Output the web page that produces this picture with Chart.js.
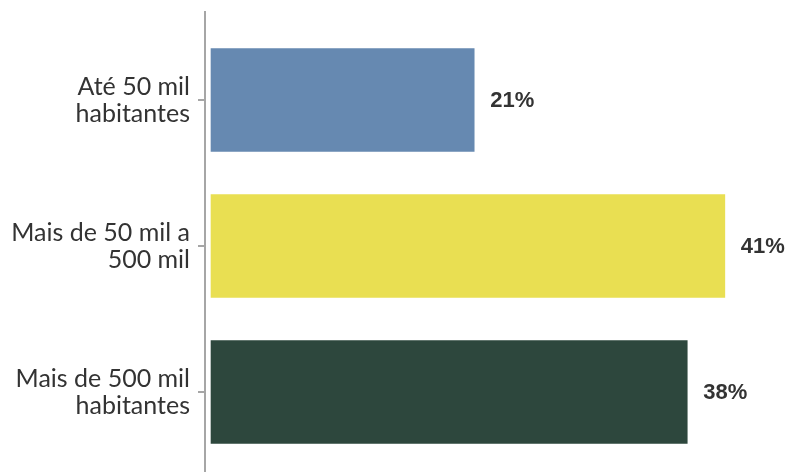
<!DOCTYPE html>
<html>
<head>
<meta charset="utf-8">
<script src="https://cdn.jsdelivr.net/npm/chart.js@4/dist/chart.umd.min.js"></script>
<style>
  html, body { margin: 0; padding: 0; background: #ffffff; }
  #wrap { width: 790px; height: 472px; position: relative; }
</style>
</head>
<body>
<div id="wrap"><canvas id="c"></canvas></div>
<script>
const categories = [
  ["Até 50 mil", "habitantes"],
  ["Mais de 50 mil a", "500 mil"],
  ["Mais de 500 mil", "habitantes"]
];
const values = [21, 41, 38];
const valueLabels = ["21%", "41%", "38%"];
const barColors = ["#6689B1", "#E9DF52", "#2D473D"];

const valueLabelPlugin = {
  id: 'valueLabels',
  afterDatasetsDraw(chart) {
    const ctx = chart.ctx;
    const meta = chart.getDatasetMeta(0);
    ctx.save();
    ctx.font = 'bold 22px "Liberation Sans", Arial, sans-serif';
    ctx.fillStyle = '#333333';
    ctx.textAlign = 'left';
    ctx.textBaseline = 'middle';
    meta.data.forEach((el, i) => {
      ctx.fillText(valueLabels[i], el.x + 16, el.y + 1);
    });
    ctx.restore();
  }
};

new Chart(document.getElementById('c'), {
  type: 'bar',
  data: {
    datasets: [{
      data: values.map((v, i) => ({ x: v, y: i })),
      backgroundColor: barColors,
      borderWidth: 0,
      barThickness: 103
    }]
  },
  options: {
    indexAxis: 'y',
    responsive: true,
    maintainAspectRatio: false,
    animation: false,
    layout: { padding: { top: 12, right: 0, bottom: 0, left: 0 } },
    plugins: { legend: { display: false }, tooltip: { enabled: false } },
    scales: {
      x: { type: 'linear', min: -0.48, max: 46.2, display: false },
      y: {
        type: 'linear',
        reverse: true,
        offset: false,
        min: -0.603,
        max: 2.548,
        afterBuildTicks: (scale) => { scale.ticks = [0, 1, 2].map(v => ({ value: v })); },
        afterFit: (scale) => { scale.width = 205; scale.paddingTop = 0; scale.paddingBottom = 0; },
        ticks: {
          callback: (v) => categories[v],
          color: '#333333',
          padding: 8,
          font: { family: 'Lato', size: 25, lineHeight: 1.08 }
        },
        grid: { offset: false, drawOnChartArea: false, drawTicks: true, tickLength: 7, color: '#a6a6a6', lineWidth: 2 },
        border: { display: true, color: '#a6a6a6', width: 2 }
      }
    }
  },
  plugins: [valueLabelPlugin]
});
</script>
</body>
</html>
